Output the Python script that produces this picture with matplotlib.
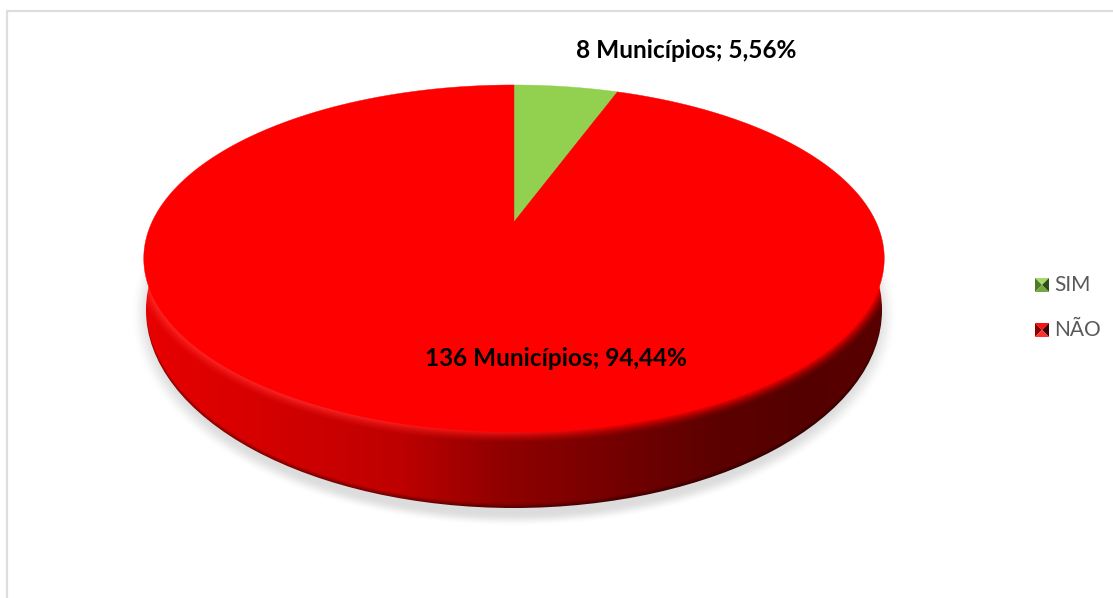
import numpy as np
import matplotlib
matplotlib.use("Agg")
import matplotlib.pyplot as plt
from matplotlib.patches import Polygon, Ellipse

categories = ["SIM", "NÃO"]
municipios = [8, 136]

plt.rcParams['font.family'] = ['Lato', 'DejaVu Sans']

# colours of the slices and pyramid legend keys
colors = ["#92d050", "#ff0000"]
key_shades = [["#a5d96e", "#4e7a28", "#2f4d16", "#76a83e"],
              ["#ff1010", "#8c0000", "#3c0000", "#ff3030"]]

W, H = 1113, 598
fig = plt.figure(figsize=(W / 100, H / 100), dpi=100)
ax = fig.add_axes([0, 0, 1, 1])
ax.set_xlim(0, W)
ax.set_ylim(H, 0)
ax.axis("off")

# outer frame, only top and left are visible
ax.plot([7, 7, W], [H, 10.5, 10.5], color="#dedede", lw=1.6, solid_joinstyle="miter")

# 3D layout: perspective disc with the slice apex off the ellipse centre
cx, apex_y = 514, 222
A, B, k = 362, 165.8, 0.21
top_cy, top_a, top_b = 258, 370, 173
bot_cy, bot_a, bot_b = 310, 368, 198


def project(t):
    # t is clockwise from 12 o'clock
    w = 1 + k * np.cos(t)
    return cx + A * np.sin(t) / w, apex_y - B * np.cos(t) / w


xx, yy = np.meshgrid(np.arange(W) + 0.5, np.arange(H) + 0.5)

# soft shadow under the disc
r = np.sqrt(((xx - cx) / 376) ** 2 + ((yy - 314) / 208) ** 2)
fade = np.clip((1.02 - r) / 0.06, 0, 1)
shadow = np.zeros((H, W, 4))
shadow[..., :3] = 0.78
shadow[..., 3] = 0.6 * fade * fade * (3 - 2 * fade)
ax.imshow(shadow, extent=(0, W, H, 0), zorder=1, aspect="auto")

# side wall: horizontal shading, bevel measured from the rim, dark line at the bottom
y_bot = bot_cy + bot_b * np.sqrt(np.clip(1 - ((xx[0] - cx) / bot_a) ** 2, 0, 1))

stops_x = [144, 250, 400, 500, 620, 720, 800, 884]
stops_r = [232, 215, 190, 145, 115, 92, 85, 88]
col_r = np.interp(xx[0], stops_x, stops_r) / 255.0

ux = (xx - cx) / top_a
uy = (yy - top_cy) / top_b
rim = np.sqrt(ux ** 2 + uy ** 2)
grad = np.sqrt((ux / top_a) ** 2 + (uy / top_b) ** 2) / np.maximum(rim, 1e-6)
dist = (rim - 1) / np.maximum(grad, 1e-6)

side = np.zeros((H, W, 3))
red = np.tile(col_r, (H, 1))
bevel = np.clip(1 - dist / 12.0, 0, 1) ** 1.5
red = red + (1 - red) * bevel
low = np.clip(1 - (y_bot - yy) / 5.0, 0, 1)
red = red * (1 - 0.45 * low)
# highlight on the lit part of the rim only
lit = np.clip((640 - xx) / 300.0, 0, 1)
side[..., 0] = red
side[..., 1] = 0.16 * bevel * lit
side[..., 2] = 0.16 * bevel * lit
img = ax.imshow(side, extent=(0, W, H, 0), zorder=2, aspect="auto", interpolation="bilinear")
clip = Ellipse((cx, bot_cy), 2 * bot_a, 2 * bot_b, transform=ax.transData,
               facecolor="none", edgecolor="none")
ax.add_patch(clip)
img.set_clip_path(clip)

# top face, one wedge per value
total = sum(municipios)
angle = 0.0
for value, color in zip(municipios, colors):
    sweep = 2 * np.pi * value / total
    ts = np.linspace(angle, angle + sweep, 300)
    ex, ey = project(ts)
    pts = np.vstack([[cx, apex_y], np.column_stack([ex, ey])])
    ax.add_patch(Polygon(pts, closed=True, facecolor=color, edgecolor=color, lw=0.3, zorder=3))
    angle += sweep

# data labels
label_pos = [(686, 50), (556, 358)]
for value, pos in zip(municipios, label_pos):
    pct = f"{100 * value / total:.2f}".replace(".", ",")
    ax.text(pos[0], pos[1], f"{value} Municípios; {pct}%", ha="center", va="center",
            fontsize=17.6, fontweight="bold", color="black", zorder=5)

# legend with pyramid keys
legend_y = [285, 330]
for name, y, shades in zip(categories, legend_y, key_shades):
    x0, x1, y0, y1 = 1035, 1049, y - 7, y + 7
    mid = ((x0 + x1) / 2, y)
    faces = [[(x0, y0), (x1, y0), mid], [(x1, y0), (x1, y1), mid],
             [(x0, y0), (x0, y1), mid], [(x0, y1), (x1, y1), mid]]
    for face, shade in zip(faces, [shades[0], shades[2], shades[1], shades[3]]):
        ax.add_patch(Polygon(face, closed=True, facecolor=shade, edgecolor="none", zorder=5))
    ax.text(1054, y, name, ha="left", va="center", fontsize=15, color="#595959", zorder=5)

fig.savefig("out.png", dpi=100)
